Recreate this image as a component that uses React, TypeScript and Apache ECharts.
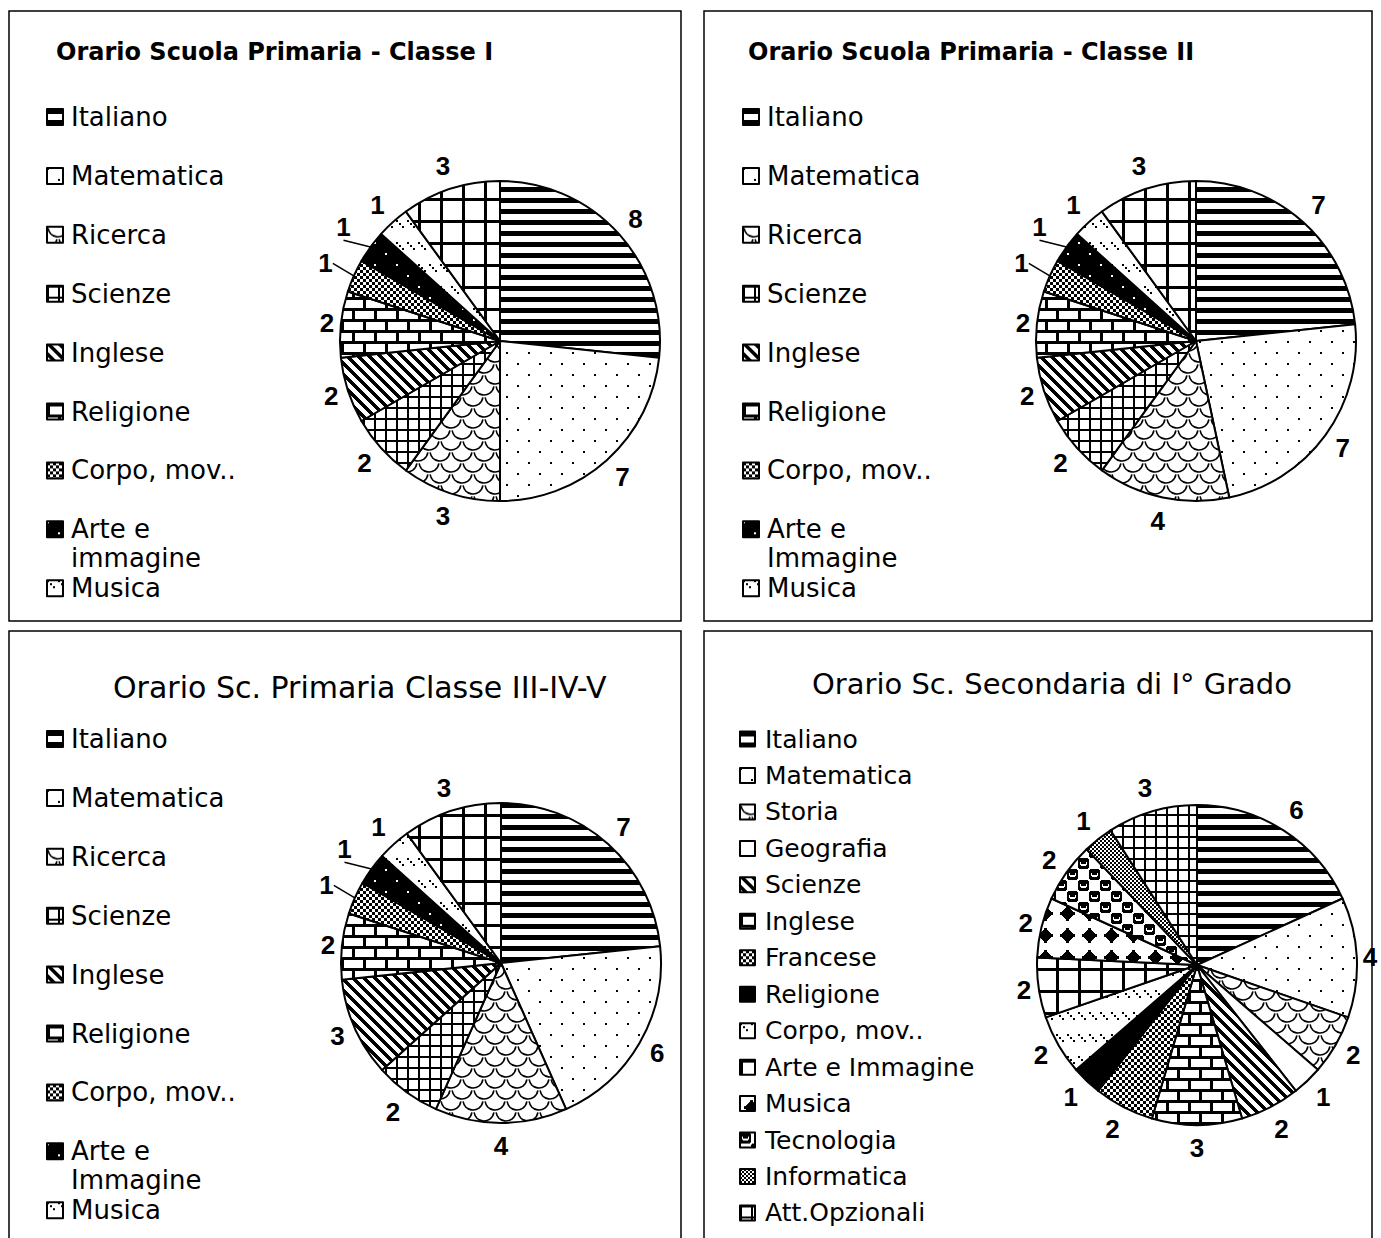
import React, { useEffect, useRef } from 'react';
import * as echarts from 'echarts';

const W = 1381;
const H = 1238;

// ---------- data ----------
const titles = [
  'Orario Scuola Primaria - Classe I',
  'Orario Scuola Primaria - Classe II',
  'Orario Sc. Primaria Classe III-IV-V',
  'Orario Sc. Secondaria di I° Grado',
];

const primaryNames1 = ['Italiano', 'Matematica', 'Ricerca', 'Scienze', 'Inglese', 'Religione', 'Corpo, mov..', 'Arte e immagine', 'Musica', 'Storia e Geografia'];
const primaryNames2 = ['Italiano', 'Matematica', 'Ricerca', 'Scienze', 'Inglese', 'Religione', 'Corpo, mov..', 'Arte e Immagine', 'Musica', 'Storia e Geografia'];
const hoursClasseI = [8, 7, 3, 2, 2, 2, 1, 1, 1, 3];
const hoursClasseII = [7, 7, 4, 2, 2, 2, 1, 1, 1, 3];
const hoursClasseIIIV = [7, 6, 4, 2, 3, 2, 1, 1, 1, 3];

const secondaryNames = ['Italiano', 'Matematica', 'Storia', 'Geografia', 'Scienze', 'Inglese', 'Francese', 'Religione', 'Corpo, mov..', 'Arte e Immagine', 'Musica', 'Tecnologia', 'Informatica', 'Att.Opzionali'];
const hoursSecondaria = [6, 4, 2, 1, 2, 3, 2, 1, 2, 2, 2, 2, 1, 3];

// ---------- patterns ----------
type Ctx = CanvasRenderingContext2D;
function mk(w: number, h: number, fn: (c: Ctx) => void) {
  const cv = document.createElement('canvas');
  cv.width = w;
  cv.height = h;
  const c = cv.getContext('2d') as Ctx;
  c.fillStyle = '#fff';
  c.fillRect(0, 0, w, h);
  c.fillStyle = '#000';
  c.strokeStyle = '#000';
  fn(c);
  return cv;
}

function buildPatterns() {
  return {
    hStripes: mk(11, 11, (c) => c.fillRect(0, 0, 11, 5)),
    dots: mk(22, 22, (c) => {
      c.fillRect(0, 0, 2, 2);
      c.fillRect(11, 11, 2, 2);
    }),
    wave: mk(22, 22, (c) => {
      c.lineWidth = 1.6;
      const arcs: [number, number][] = [[11, 0], [0, 11], [22, 11]];
      arcs.forEach(([x, y]) => {
        c.beginPath();
        c.arc(x, y, 10, 0.15, Math.PI - 0.15);
        c.stroke();
      });
    }),
    smallGrid: mk(11, 11, (c) => {
      c.fillRect(0, 0, 11, 2);
      c.fillRect(0, 0, 2, 11);
    }),
    bigGrid: mk(22, 22, (c) => {
      c.fillRect(0, 0, 22, 3);
      c.fillRect(0, 0, 3, 22);
    }),
    diag: mk(11, 11, (c) => {
      for (let y = 0; y < 11; y++)
        for (let x = 0; x < 11; x++) if ((x - y + 22) % 11 < 5) c.fillRect(x, y, 1, 1);
    }),
    bricks: mk(22, 22, (c) => {
      c.fillRect(0, 0, 22, 3);
      c.fillRect(0, 11, 22, 3);
      c.fillRect(0, 0, 3, 11);
      c.fillRect(11, 11, 3, 11);
    }),
    checker: mk(6, 6, (c) => {
      c.fillRect(0, 0, 3, 3);
      c.fillRect(3, 3, 3, 3);
    }),
    fineChecker: mk(4, 4, (c) => {
      c.fillRect(0, 0, 2, 2);
      c.fillRect(2, 2, 2, 2);
    }),
    blackDots: mk(22, 22, (c) => {
      c.fillRect(0, 0, 22, 22);
      c.fillStyle = '#fff';
      c.fillRect(0, 0, 2, 2);
      c.fillRect(11, 11, 2, 2);
    }),
    dashDiag: mk(11, 22, (c) => {
      c.fillRect(0, 0, 2, 2);
      c.fillRect(3, 3, 2, 2);
      c.fillRect(6, 6, 2, 2);
    }),
    diamonds: mk(22, 22, (c) => {
      for (let y = 0; y < 22; y++)
        for (let x = 0; x < 22; x++) {
          const dx = Math.abs(x - 11);
          const dy = Math.abs(y - 11);
          if ((dx + dy <= 7 && Math.max(dx, dy) <= 5) || (dx <= 1 && dy <= 7) || (dy <= 1 && dx <= 7)) c.fillRect(x, y, 1, 1);
        }
    }),
    spheres: mk(22, 22, (c) => {
      const blob = (x: number, y: number) => {
        c.fillStyle = '#000';
        c.fillRect(x + 1, y, 9, 11);
        c.fillRect(x, y + 1, 11, 9);
        c.fillStyle = '#fff';
        c.fillRect(x + 3, y + 6, 5, 2);
        c.fillRect(x + 2, y + 4, 1, 3);
        c.fillRect(x + 8, y + 4, 1, 3);
      };
      blob(0, 0);
      blob(11, 11);
    }),
    white: mk(2, 2, () => {}),
    black: mk(2, 2, (c) => c.fillRect(0, 0, 2, 2)),
  };
}
type Pats = ReturnType<typeof buildPatterns>;
type PatKey = keyof Pats;

const primaryPatterns: PatKey[] = ['hStripes', 'dots', 'wave', 'smallGrid', 'diag', 'bricks', 'checker', 'blackDots', 'dashDiag', 'bigGrid'];
const secondaryPatterns: PatKey[] = ['hStripes', 'dots', 'wave', 'white', 'diag', 'bricks', 'checker', 'black', 'dashDiag', 'bigGrid', 'diamonds', 'spheres', 'fineChecker', 'smallGrid'];

interface Cfg {
  title: string;
  titleX: number;
  titleY: number;
  titleSize: number;
  titleBold: boolean;
  border: { x: number; y: number; width: number; height: number };
  names: string[];
  values: number[];
  patterns: PatKey[];
  legendCount: number;
  legendLeft: number;
  legendY0: number;
  legendStep: number;
  legendIcon: number;
  legendFont: number;
  legendLH: number;
  legendPad: number;
  center: [number, number];
  r: number;
  leaders: number[];
}

const configs: Cfg[] = [
  {
    title: titles[0], titleX: 56, titleY: 52, titleSize: 24, titleBold: true,
    border: { x: 9, y: 11, width: 672, height: 610 },
    names: primaryNames1, values: hoursClasseI, patterns: primaryPatterns, legendCount: 9,
    legendLeft: 46, legendY0: 117, legendStep: 58.9, legendIcon: 16, legendFont: 26, legendLH: 33, legendPad: 3,
    center: [500, 341], r: 160, leaders: [6, 7],
  },
  {
    title: titles[1], titleX: 748, titleY: 52, titleSize: 24, titleBold: true,
    border: { x: 704, y: 11, width: 668, height: 610 },
    names: primaryNames2, values: hoursClasseII, patterns: primaryPatterns, legendCount: 9,
    legendLeft: 742, legendY0: 117, legendStep: 58.9, legendIcon: 16, legendFont: 26, legendLH: 33, legendPad: 3,
    center: [1196, 341], r: 160, leaders: [6, 7],
  },
  {
    title: titles[2], titleX: 113, titleY: 687, titleSize: 30, titleBold: false,
    border: { x: 9, y: 631, width: 672, height: 640 },
    names: primaryNames2, values: hoursClasseIIIV, patterns: primaryPatterns, legendCount: 9,
    legendLeft: 46, legendY0: 739, legendStep: 58.9, legendIcon: 16, legendFont: 26, legendLH: 33, legendPad: 3,
    center: [501, 963], r: 160, leaders: [6, 7],
  },
  {
    title: titles[3], titleX: 812, titleY: 684, titleSize: 29, titleBold: false,
    border: { x: 704, y: 631, width: 668, height: 640 },
    names: secondaryNames, values: hoursSecondaria, patterns: secondaryPatterns, legendCount: 14,
    legendLeft: 739, legendY0: 739, legendStep: 36.46, legendIcon: 15, legendFont: 25, legendLH: 30, legendPad: 5,
    center: [1197, 965], r: 160, leaders: [],
  },
];

function makeOption(cfg: Cfg, P: Pats) {
  const fam = 'DejaVu Sans';
  const pat = (k: PatKey) => ({ image: P[k], repeat: 'repeat' });
  const total = cfg.values.reduce((a, b) => a + b, 0);
  const legends = cfg.names.slice(0, cfg.legendCount).map((name, i) => {
    const twoLine = name.startsWith('Arte e') && cfg.legendCount === 9;
    const disp = twoLine ? name.replace('Arte e ', 'Arte e\n') : name;
    const cy = cfg.legendY0 + i * cfg.legendStep;
    const LH = twoLine ? 29 : cfg.legendLH;
    const s = cfg.legendIcon;
    const tall = s + LH;
    return {
      show: true,
      orient: 'vertical',
      left: cfg.legendLeft,
      top: cy - LH / 2,
      padding: 0,
      itemGap: 0,
      itemWidth: s,
      itemHeight: twoLine ? tall : s,
      icon: twoLine ? `path://M0,0H${s}V${s}H0Z M0,${tall}L0,${tall}` : 'rect',
      selectedMode: false,
      data: [name],
      formatter: () => disp,
      itemStyle: { borderColor: '#000', borderWidth: 2 },
      textStyle: {
        fontFamily: fam,
        fontSize: cfg.legendFont,
        lineHeight: LH,
        color: '#000',
        padding: [0, 0, 0, cfg.legendPad],
      },
    };
  });
  return {
    animation: false,
    title: {
      text: cfg.title,
      left: cfg.titleX,
      top: cfg.titleY - 18,
      padding: 0,
      textStyle: {
        fontFamily: fam,
        fontSize: cfg.titleSize,
        fontWeight: cfg.titleBold ? 'bold' : 'normal',
        color: '#000',
        lineHeight: 36,
      },
    },
    graphic: [
      {
        type: 'rect',
        silent: true,
        shape: cfg.border,
        style: { fill: 'none', stroke: '#000', lineWidth: 1.5 },
      },
    ],
    legend: legends,
    series: [
      {
        type: 'pie',
        silent: true,
        center: cfg.center,
        radius: cfg.r,
        startAngle: 90,
        clockwise: true,
        avoidLabelOverlap: false,
        label: {
          show: true,
          position: 'outside',
          formatter: '{c}',
          color: '#000',
          fontFamily: 'Liberation Sans',
          fontWeight: 'bold',
          fontSize: 26,
          lineHeight: 26,
        },
        labelLine: { show: false, length: 10, length2: 0, lineStyle: { color: '#000', width: 1.5 } },
        labelLayout: (p: any) => {
          const i = p.dataIndex;
          let before = 0;
          for (let k = 0; k < i; k++) before += cfg.values[k];
          const ang = ((90 - ((before + cfg.values[i] / 2) / total) * 360) * Math.PI) / 180;
          const c = Math.cos(ang);
          const s = -Math.sin(ang);
          const hw = p.labelRect.width / 2;
          const hh = 9;
          const extra = cfg.leaders.includes(i) ? 12 : 0;
          const d = cfg.r + 5 + 9 * Math.abs(s) + extra + hw * Math.abs(c) + hh * Math.abs(s);
          return { x: cfg.center[0] + d * c, y: cfg.center[1] + d * s, align: 'center', verticalAlign: 'middle' };
        },
        itemStyle: { borderColor: '#000', borderWidth: 2 },
        emphasis: { disabled: true },
        data: cfg.values.map((v, i) => ({
          name: cfg.names[i],
          value: v,
          itemStyle: { color: pat(cfg.patterns[i]) },
          ...(cfg.leaders.includes(i) ? { labelLine: { show: true } } : {}),
        })),
      },
    ],
  };
}

export default function App() {
  const r0 = useRef<HTMLDivElement>(null);
  const r1 = useRef<HTMLDivElement>(null);
  const r2 = useRef<HTMLDivElement>(null);
  const r3 = useRef<HTMLDivElement>(null);
  const refs = [r0, r1, r2, r3];
  useEffect(() => {
    document.body.style.margin = '0';
    const P = buildPatterns();
    const charts = configs.map((cfg, i) => {
      const ch = echarts.init(refs[i].current as HTMLDivElement, undefined, { renderer: 'svg', width: W, height: H });
      ch.setOption(makeOption(cfg, P) as any);
      return ch;
    });
    return () => charts.forEach((c) => c.dispose());
  }, []);
  return (
    <div style={{ position: 'relative', width: W, height: H, background: '#fff', overflow: 'hidden' }}>
      {refs.map((r, i) => (
        <div key={i} ref={r} style={{ position: 'absolute', left: 0, top: 0, width: W, height: H }} />
      ))}
    </div>
  );
}
